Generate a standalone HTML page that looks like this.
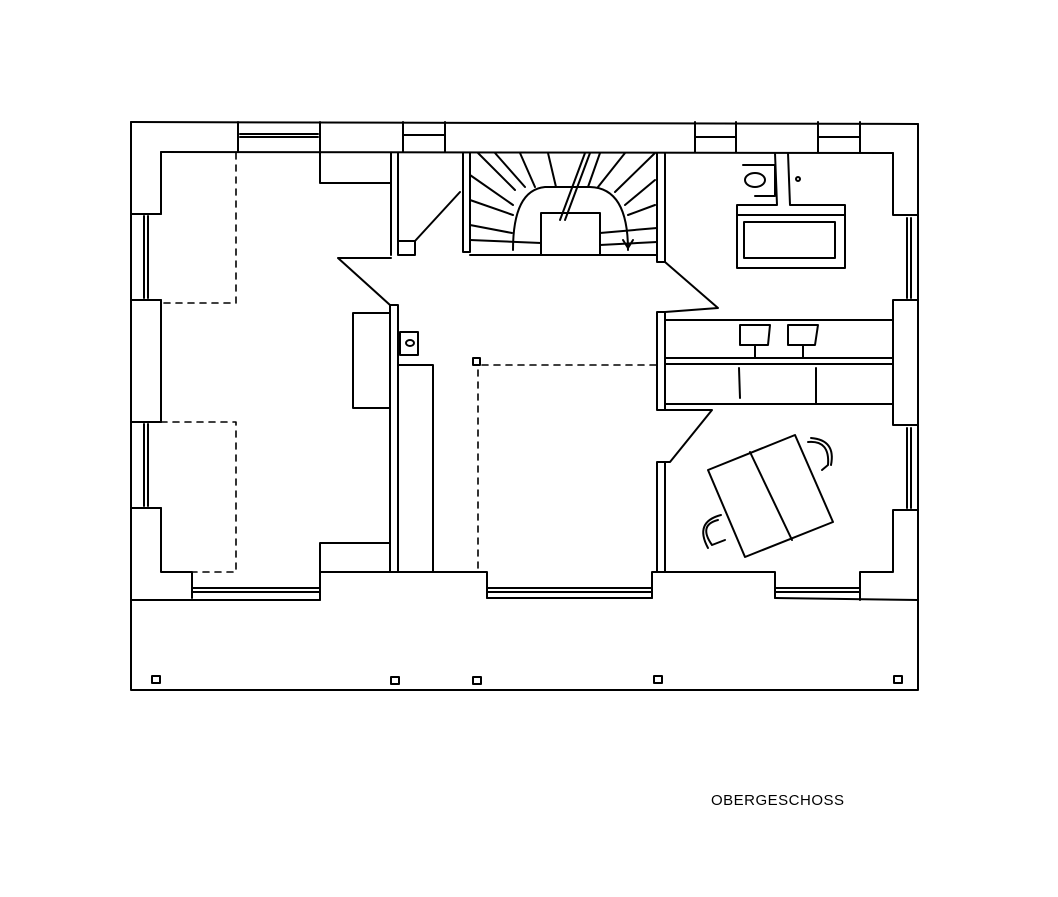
<!DOCTYPE html>
<html><head><meta charset="utf-8"><style>
html,body{margin:0;padding:0;background:#fff}
svg{display:block}
</style></head><body>
<svg width="1058" height="897" viewBox="0 0 1058 897" xmlns="http://www.w3.org/2000/svg">
<g fill="none" stroke="#000" stroke-width="2" stroke-linecap="round" stroke-linejoin="round">
<!-- outer frame -->
<path d="M131 122 L918 124"/>
<path d="M131 122 L131 690 L918 690 L918 124"/>
<path d="M131 600 L320 600 M487 598 L652 598 M775 598 L918 600"/>
<!-- inner wall top -->
<path d="M161 152 L893 153"/>
<path d="M161 152 L161 214 M161 300 L161 422 M161 508 L161 572 L192 572 L192 598"/>
<!-- top windows -->
<path d="M238 122 L238 152 M320 122 L320 152 M240 134 L318 134 M240 137 L318 137"/>
<path d="M403 122 L403 152 M445 122 L445 152 M404 135 L444 135"/>
<path d="M695 122 L695 152 M736 122 L736 152 M696 137 L735 137"/>
<path d="M818 122 L818 152 M860 122 L860 152 M819 137 L859 137"/>
<!-- left windows -->
<path d="M131 214 L161 214 M131 300 L161 300 M144 216 L144 298 M148 216 L148 298"/>
<path d="M131 422 L161 422 M131 508 L161 508 M144 424 L144 506 M148 424 L148 506"/>
<!-- right windows -->
<path d="M893 153 L893 215 L918 215 M893 300 L918 300 L918 300 M893 300 L893 425 L918 425 M893 510 L893 572 L860 572 L860 600 M893 510 L918 510"/>
<path d="M907 218 L907 298 M911 218 L911 298 M907 428 L907 508 M911 428 L911 508"/>
<!-- bottom windows -->
<path d="M192 588 L320 588 M192 592 L320 592"/>
<path d="M487 588 L652 588 M487 592 L652 592"/>
<path d="M775 588 L860 588 M775 592 L860 592"/>
<!-- bottom piers -->
<path d="M320 572 L487 572 L487 598 M320 572 L320 600"/>
<path d="M652 572 L775 572 L775 598 M652 572 L652 598"/>
<!-- left closet top -->
<path d="M320 152 L320 183 L390 183"/>
<!-- wall with door top-left of hall -->
<path d="M391 153 L391 255 M398 153 L398 255 L415 255 L415 241 L460 192 M398 241 L415 241"/>
<!-- stair walls -->
<path d="M463 153 L463 252 L470 252 L470 153 M470 255 L657 255 M657 153 L657 262 L665 262 L665 153"/>
<path d="M541 255 L541 213 L600 213 L600 255"/>
<path d="M513 250 Q513 190 545 187 L590 187 Q628 188 628 250"/>
<path d="M470 175 L513 205 M470 200 L513 215 M470 225 L512 233 M478 153 L515 190 M495 153 L525 187 M520 153 L535 187 M548 153 L556 187 M600 153 L588 187 M625 153 L598 187 M655 153 L615 192 M655 180 L625 205 M655 205 L628 215 M541 243 L470 240 M600 233 L657 228 M600 245 L657 242"/>
<path d="M585 153 L560 220 M590 153 L565 220 M623 240 L628 248 L633 240"/>
<!-- hall left diagonal and walls -->
<path d="M338 258 L391 258 M338 258 L390 305 L390 572 M398 305 L398 572 M390 305 L398 305"/>
<path d="M398 365 L433 365 L433 572"/>
<path d="M353 313 L390 313 M353 313 L353 408 L390 408"/>
<path d="M400 332 L418 332 L418 355 L400 355 Z"/>
<ellipse cx="410" cy="343" rx="4" ry="3"/>
<path d="M320 572 L320 543 L390 543"/>
<!-- dashed lines -->
<g stroke-dasharray="6 6" stroke-width="1.6">
<path d="M236 153 L236 303 L161 303"/>
<path d="M161 422 L236 422 L236 572 L192 572"/>
<path d="M482 365 L657 365"/>
<path d="M478 370 L478 572"/>
</g>
<rect x="473" y="358" width="7" height="7"/>
<!-- right diagonal door upper -->
<path d="M665 262 L718 308 L665 312"/>
<!-- bathroom fixtures -->
<ellipse cx="755" cy="180" rx="10" ry="7"/>
<path d="M743 165 L775 165 L775 196 L755 196"/>
<path d="M775 153 L777 205 L737 205 L737 268 L845 268 L845 205 L790 205 L788 153"/>
<path d="M737 215 L845 215 M744 222 L835 222 L835 258 L744 258 Z"/>
<circle cx="798" cy="179" r="2"/>
<!-- vanity -->
<path d="M657 312 L665 312 L665 410 L657 410 Z"/>
<path d="M665 320 L893 320 M665 358 L893 358 M665 364 L893 364 M665 404 L893 404"/>
<path d="M740 325 L770 325 L768 345 L740 345 Z M788 325 L818 325 L815 345 L788 345 Z M755 345 L755 358 M803 345 L803 358"/>
<path d="M739 368 L740 398 M816 368 L816 404"/>
<!-- lower right door diagonal -->
<path d="M665 410 L712 410 L670 462 L657 462 L657 572 M665 462 L665 572"/>
<!-- table -->
<path d="M708 470 L795 435 L833 522 L745 557 Z M750 452 L792 540"/>
<path d="M808 442 Q830 440 828 465 L822 470 M811 438 Q836 440 831 465"/>
<path d="M718 520 Q698 525 712 545 L725 540 M721 515 Q694 522 708 548"/>
<!-- terrace posts -->
<rect x="152" y="676" width="8" height="7"/>
<rect x="391" y="677" width="8" height="7"/>
<rect x="473" y="677" width="8" height="7"/>
<rect x="654" y="676" width="8" height="7"/>
<rect x="894" y="676" width="8" height="7"/>
</g>
<text x="711" y="805" font-family="Liberation Sans, sans-serif" font-size="15" fill="#000" letter-spacing="0.5">OBERGESCHOSS</text>
</svg>
</body></html>
